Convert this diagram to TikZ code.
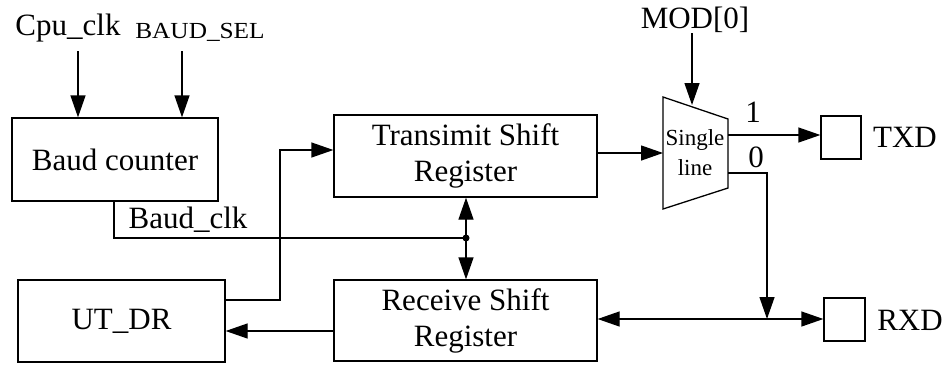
\documentclass[tikz,border=0pt]{standalone}
\usepackage{fontspec}
\setmainfont{Liberation Serif}
\usetikzlibrary{arrows.meta,calc}
\tikzset{
 box/.style={draw, line width=1.3pt, inner sep=0pt, align=center, font=\fontsize{31}{36}\selectfont},
 lbl/.style={inner sep=0pt, font=\fontsize{31}{36}\selectfont},
 tip/.tip={Triangle[length=22pt,width=15pt]},
 wire/.style={line width=1.3pt},
 conn/.style={wire, -tip},
}
\begin{document}
\begin{tikzpicture}[x=1pt,y=-1pt]
\useasboundingbox (0,0) rectangle (952,365);
% boxes
\node[box, minimum width=206pt, minimum height=83pt] (baud) at (115,159.5) {Baud counter};
\node[box, minimum width=263pt, minimum height=82pt] (tx) at (465.5,156) {Transimit Shift\\Register};
\node[box, minimum width=263pt, minimum height=81pt] (rx) at (465.5,320.5) {Receive Shift\\Register};
\node[box, minimum width=207pt, minimum height=82pt] (ut) at (121.5,321) {UT\_DR};
\node[box, minimum width=40pt, minimum height=43pt] (txd) at (841,137.5) {};
\node[box, minimum width=41pt, minimum height=43pt] (rxd) at (844.5,319.5) {};
% labels
\node[lbl] (cpu) at (68,28) {Cpu\_clk};
\node[lbl, font=\fontsize{23}{26}\selectfont] (bsel) at (200,32) {\scalebox{1.1}[1]{BAUD\_SEL}};
\node[lbl] (mod) at (695,20) {MOD[0]};
\node[lbl] (bclk) at (188,220) {Baud\_clk};
\node[lbl] (one) at (753,112) {1};
\node[lbl] (zero) at (756,157) {0};
\node[lbl] (txdl) at (905,137) {TXD};
\node[lbl] (rxdl) at (910,320) {RXD};
% mux
\coordinate (m1) at (663,97);
\coordinate (m2) at (728,119);
\coordinate (m3) at (728,188);
\coordinate (m4) at (663,209);
\draw[wire] (m1) -- (m2) -- (m3) -- (m4) -- cycle;
\node[inner sep=0pt, align=center, font=\fontsize{23}{30}\selectfont] (mux) at (695,153) {Single\\line};
% inputs to baud counter
\coordinate (c1) at (78,51);
\coordinate (c2) at (182,51);
\draw[conn] (c1) -- (c1 |- baud.north);
\draw[conn] (c2) -- (c2 |- baud.north);
% baud clock
\coordinate (j) at (466,238);
\coordinate (bs) at (114,201);
\draw[wire] (bs) |- (j);
\fill (j) circle (3.5pt);
\draw[conn] (j) -- (j |- tx.south);
\draw[conn] (j) -- (j |- rx.north);
% UT_DR to transmit
\coordinate (b1) at (280,300);
\draw[conn] (ut.east |- b1) -- (b1) |- ($(tx.west)+(0,-6)$);
% receive to UT_DR
\draw[conn] ($(rx.west)+(0,10.5)$) -- ($(ut.east)+(0,10)$);
% transmit to mux
\coordinate (min) at (663,153);
\draw[conn] (tx.east |- min) -- (min);
% MOD
\coordinate (modtip) at (692,105);
\draw[conn] (mod.south -| modtip) -- (modtip);
% outputs
\coordinate (o1) at (728,135);
\draw[conn] (o1) -- (txd.west |- o1);
\coordinate (o0) at (728,173);
\coordinate (k) at (767,319);
\draw[conn] (o0) -| (k);
\draw[wire, tip-tip] (rx.east |- k) -- (rxd.west |- k);
\end{tikzpicture}
\end{document}
